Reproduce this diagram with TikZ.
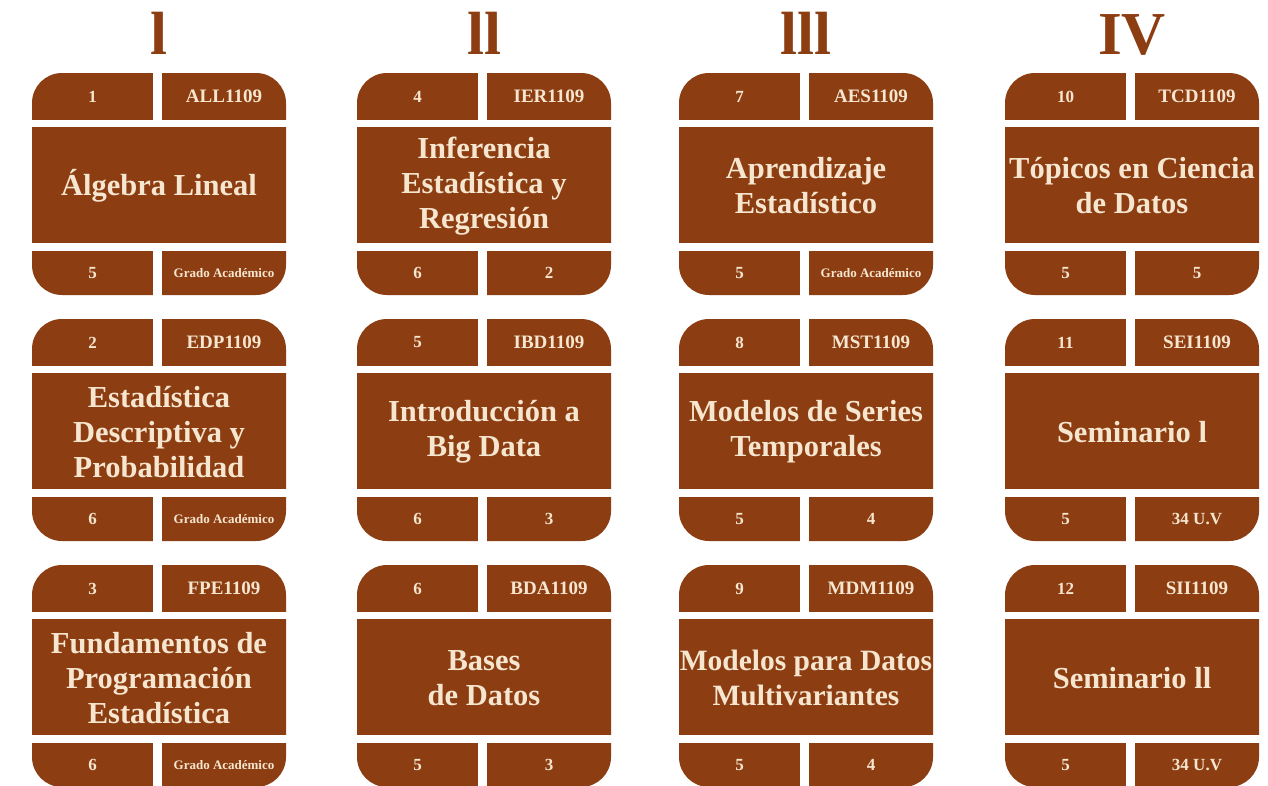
\documentclass[tikz,border=0pt]{standalone}
\usepackage{fontspec}
\setmainfont{Liberation Serif}
\definecolor{brn}{RGB}{140,62,18}
\definecolor{crm}{RGB}{246,230,208}
\tikzset{
 cardbg/.style={fill=brn, rounded corners=30pt},
 gapbar/.style={fill=white},
 lbl/.style={text=crm, font=\bfseries\fontsize{17}{17}\selectfont, inner sep=0pt},
 codelbl/.style={text=crm, font=\bfseries\fontsize{19}{19}\selectfont, inner sep=0pt},
 titlelbl/.style={text=crm, font=\bfseries\fontsize{30.5}{35}\selectfont, align=center, inner sep=0pt},
 narrowtitle/.style={font=\bfseries\fontsize{29.5}{35}\selectfont},
 head/.style={text=brn, font=\bfseries\fontsize{61}{61}\selectfont, anchor=base, inner sep=0pt},
}
\newcommand\ga{{\fontsize{13}{13}\selectfont Grado Académico}}
\newcommand\mycard[9][]{%
\begin{scope}[shift={(#2,#3)}]
\fill[cardbg] (0,0) rectangle (254,222);
\fill[gapbar] (-1,47) rectangle (255,54);
\fill[gapbar] (-1,170) rectangle (255,178);
\fill[gapbar] (121,-1) rectangle (130,47);
\fill[gapbar] (121,178) rectangle (130,223);
\node[lbl] (#4-num) at (60.5,23.5) {#5};
\node[codelbl] (#4-code) at (192,23.5) {#6};
\node[titlelbl,#1] (#4-title) at (127,113) {#7};
\node[lbl] (#4-cr) at (60.5,200) {#8};
\node[lbl] (#4-ex) at (192,200) {#9};
\end{scope}}
\begin{document}
\begin{tikzpicture}[x=1pt,y=-1pt]
\fill[white] (0,0) rectangle (1268,785);
\useasboundingbox (0,0) rectangle (1268,785);
\begin{scope}
\clip (0,0) rectangle (1268,785);
\node[head] (h1) at (159,54) {l};
\node[head] (h2) at (484,54) {ll};
\node[head] (h3) at (806,54) {lll};
\node[head] (h4) at (1132,54) {IV};
\mycard{32}{73}{c1}{1}{ALL1109}{Álgebra Lineal}{5}{\ga}
\mycard{32}{319}{c2}{2}{EDP1109}{Estadística\\Descriptiva y\\Probabilidad}{6}{\ga}
\mycard{32}{565}{c3}{3}{FPE1109}{Fundamentos de\\Programación\\Estadística}{6}{\ga}
\mycard{357}{73}{c4}{4}{IER1109}{Inferencia\\Estadística y\\Regresión}{6}{2}
\mycard{357}{319}{c5}{5}{IBD1109}{Introducción a\\Big Data}{6}{3}
\mycard{357}{565}{c6}{6}{BDA1109}{Bases\\de Datos}{5}{3}
\mycard{679}{73}{c7}{7}{AES1109}{Aprendizaje\\Estadístico}{5}{\ga}
\mycard{679}{319}{c8}{8}{MST1109}{Modelos de Series\\Temporales}{5}{4}
\mycard[narrowtitle]{679}{565}{c9}{9}{MDM1109}{Modelos para Datos\\Multivariantes}{5}{4}
\mycard{1005}{73}{c10}{10}{TCD1109}{Tópicos en Ciencia\\de Datos}{5}{5}
\mycard{1005}{319}{c11}{11}{SEI1109}{Seminario l}{5}{34 U.V}
\mycard{1005}{565}{c12}{12}{SII1109}{Seminario ll}{5}{34 U.V}
\end{scope}
\end{tikzpicture}
\end{document}
